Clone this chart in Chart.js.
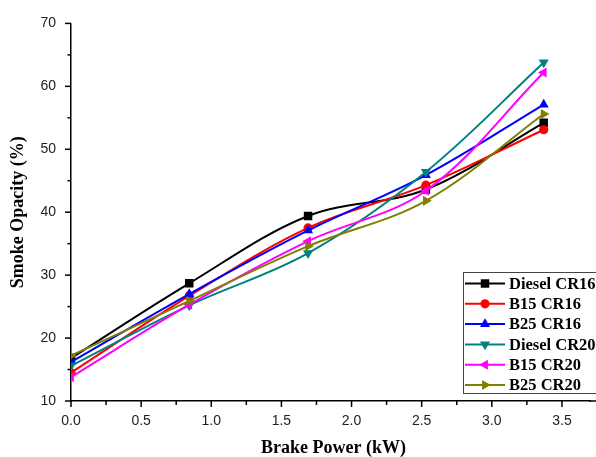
<!DOCTYPE html>
<html><head><meta charset="utf-8">
<script src="https://cdn.jsdelivr.net/npm/chart.js@4"></script>
<style>html,body{margin:0;padding:0;background:#fff}#wrap{width:596px;height:457px;position:relative}</style>
</head><body><div id="wrap"><canvas id="c" width="596" height="457"></canvas></div>
<script>
const brakePower = [0, 0.843, 1.69, 2.53, 3.37];
const dieselCR16 = [16.8, 28.7, 39.4, 43.6, 54.2];
const b15CR16   = [14.5, 26.7, 37.5, 44.3, 53.1];
const b25CR16   = [16.2, 27.0, 37.1, 45.9, 57.1];
const dieselCR20 = [15.6, 25.2, 33.5, 46.4, 63.8];
const b15CR20   = [13.8, 25.3, 35.4, 43.4, 62.2];
const b25CR20   = [17.2, 25.9, 34.6, 41.8, 55.6];
const seriesNames = ['Diesel CR16','B15 CR16','B25 CR16','Diesel CR20','B15 CR20','B25 CR20'];
const xTickValues = [0,0.5,1.0,1.5,2.0,2.5,3.0,3.5];
const yTickValues = [10,20,30,40,50,60,70];
const xTitle = 'Brake Power (kW)';
const yTitle = 'Smoke Opacity (%)';

const seriesValues = [dieselCR16,b15CR16,b25CR16,dieselCR20,b15CR20,b25CR20];
const colors = ['#000000','#ff0000','#0000ff','#008080','#ff00ff','#808000'];
const styles = ['rect','circle','triangle','triangle','triangle','triangle'];
const rots = [0,0,0,180,-90,90];
const radii = [6,4.6,5.8,5.8,5.8,5.8];

const datasets = seriesValues.map((vals,i)=>({
  label: seriesNames[i],
  data: vals.map((v,j)=>({x: brakePower[j], y: v})),
  borderColor: colors[i], backgroundColor: colors[i],
  borderWidth: 2, pointStyle: styles[i], pointRotation: rots[i],
  pointRadius: radii[i], pointBorderWidth: 0, pointHoverRadius: radii[i],
  tension: 0.35, order: 6 - i
}));

function drawMarker(ctx, style, rot, r, x, y, color){
  ctx.save(); ctx.fillStyle = color; ctx.translate(x,y); ctx.rotate(rot*Math.PI/180);
  ctx.beginPath();
  if(style==='rect'){ const s=Math.SQRT1_2*r; ctx.rect(-s,-s,2*s,2*s); }
  else if(style==='circle'){ ctx.arc(0,0,r,0,Math.PI*2); }
  else { for(let k=0;k<3;k++){ const a=k*2*Math.PI/3; const px=Math.sin(a)*r, py=-Math.cos(a)*r; k?ctx.lineTo(px,py):ctx.moveTo(px,py);} ctx.closePath(); }
  ctx.fill(); ctx.restore();
}

const decor = {
  id:'decor',
  afterDraw(chart){
    const ctx = chart.ctx, xs = chart.scales.x, ys = chart.scales.y, ca = chart.chartArea;
    ctx.save();
    ctx.strokeStyle = '#000'; ctx.lineWidth = 1.5;
    ctx.beginPath(); ctx.moveTo(ca.right - 1, ca.bottom); ctx.lineTo(596, ca.bottom); ctx.stroke();
    for(let v=0; v<=3.5001; v+=0.25){
      const px = xs.getPixelForValue(v); const major = Math.abs(v*2-Math.round(v*2))<1e-6;
      ctx.beginPath(); ctx.moveTo(px, ca.bottom); ctx.lineTo(px, ca.bottom + (major?6:4)); ctx.stroke();
    }
    for(let v=10; v<=70; v+=5){
      const py = ys.getPixelForValue(v); const major = v%10===0;
      ctx.beginPath(); ctx.moveTo(ca.left, py); ctx.lineTo(ca.left - (major?6:3.5), py); ctx.stroke();
    }
    ctx.fillStyle = '#000'; ctx.font = 'bold 18px "Liberation Serif", "Times New Roman", serif';
    ctx.textAlign = 'center'; ctx.textBaseline = 'middle';
    ctx.fillText(xTitle, 333.5, 448);
    ctx.save(); ctx.translate(18, (ca.top+ca.bottom)/2); ctx.rotate(-Math.PI/2); ctx.fillText(yTitle, 0, 0); ctx.restore();
    const lx = 463, ly = 272, lw = 150, lh = 121;
    ctx.fillStyle = '#fff'; ctx.fillRect(lx, ly, lw, lh);
    ctx.strokeStyle = '#444'; ctx.lineWidth = 1; ctx.strokeRect(lx+0.5, ly+0.5, lw, lh);
    ctx.font = 'bold 16.5px "Liberation Serif", "Times New Roman", serif';
    ctx.textAlign = 'left';
    chart.data.datasets.forEach((ds,i)=>{
      const y = 283.5 + i*20.3;
      ctx.strokeStyle = ds.borderColor; ctx.lineWidth = 2;
      ctx.beginPath(); ctx.moveTo(465, y); ctx.lineTo(505, y); ctx.stroke();
      drawMarker(ctx, ds.pointStyle, ds.pointRotation, ds.pointRadius, 485, y, ds.borderColor);
      ctx.fillStyle = '#000'; ctx.fillText(ds.label, 509, y+1);
    });
    ctx.restore();
  }
};

new Chart(document.getElementById('c'), {
  type: 'line',
  data: { datasets },
  options: {
    responsive: false, animation: false, devicePixelRatio: 1,
    layout: { padding: { top: 21, right: 0, left: 0, bottom: 0 } },
    plugins: { legend: { display: false }, tooltip: { enabled: false } },
    scales: {
      x: {
        type: 'linear', min: 0, max: 3.70,
        afterBuildTicks: s => { s.ticks = xTickValues.map(v=>({value:v})); },
        afterFit: s => { s.height = 56; },
        grid: { display: false, drawTicks: false },
        border: { display: true, color: '#000', width: 1.5 },
        ticks: { padding: 12, color: '#222', font: { family: '"Liberation Sans", Arial, sans-serif', size: 14 },
          callback: v => Number(v).toFixed(1), maxRotation: 0, autoSkip: false }
      },
      y: {
        type: 'linear', min: 10, max: 70,
        afterBuildTicks: s => { s.ticks = yTickValues.map(v=>({value:v})); },
        afterFit: s => { s.width = 71; },
        grid: { display: false, drawTicks: false },
        border: { display: true, color: '#000', width: 1.5 },
        ticks: { padding: 15, color: '#222', font: { family: '"Liberation Sans", Arial, sans-serif', size: 14 } }
      }
    }
  },
  plugins: [decor]
});
</script></body></html>
